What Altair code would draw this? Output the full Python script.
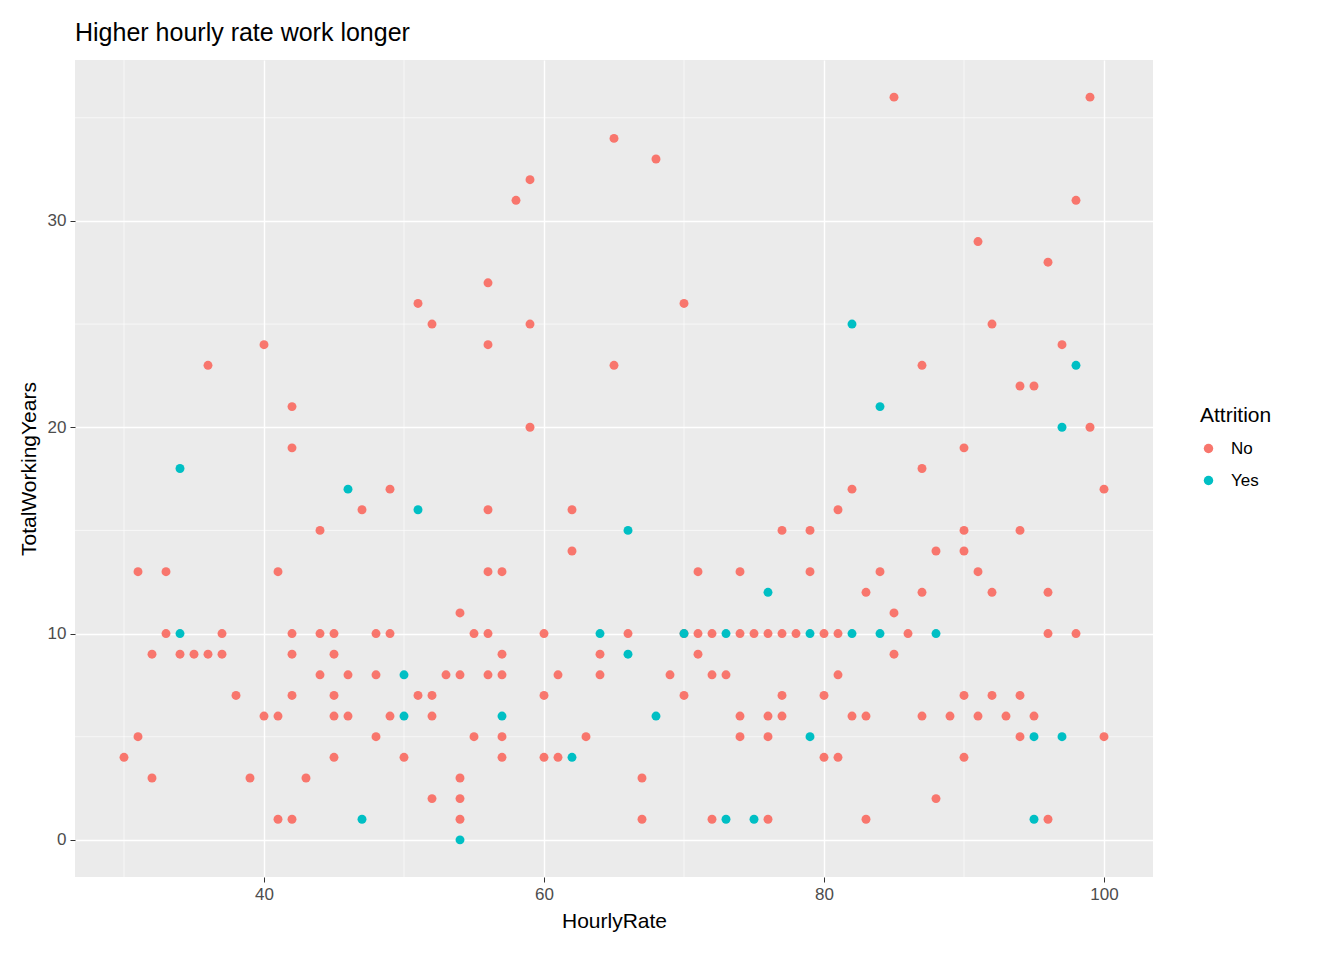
import altair as alt
import pandas as pd

# Attrition = No
no_x = [30, 31, 31, 32, 32, 33, 33, 34, 35, 36, 36, 37, 37, 38, 39, 40, 40,
        41, 41, 41, 42, 42, 42, 42, 42, 42, 43, 44, 44, 44, 45, 45, 45, 45, 45,
        46, 46, 47, 48, 48, 48, 49, 49, 49, 50, 51, 51, 52, 52, 52, 52, 53,
        54, 54, 54, 54, 54, 55, 55, 56, 56, 56, 56, 56, 56, 57, 57, 57, 57, 57,
        58, 59, 59, 59, 60, 60, 60, 61, 61, 62, 62, 63, 64, 64, 65, 65, 66,
        67, 67, 68, 69, 70, 70, 70, 71, 71, 71, 72, 72, 72, 73, 74, 74, 74, 74,
        75, 76, 76, 76, 76, 77, 77, 77, 77, 78, 79, 79, 80, 80, 80, 81, 81, 81,
        81, 82, 82, 83, 83, 83, 84, 85, 85, 85, 86, 87, 87, 87, 87, 88, 88, 89,
        90, 90, 90, 90, 90, 91, 91, 91, 92, 92, 92, 93, 94, 94, 94, 94, 95, 95,
        96, 96, 96, 96, 97, 98, 98, 99, 99, 100, 100]
no_y = [4, 5, 13, 9, 3, 13, 10, 9, 9, 23, 9, 10, 9, 7, 3, 24, 6,
        13, 6, 1, 21, 19, 10, 9, 7, 1, 3, 15, 10, 8, 10, 9, 7, 6, 4,
        8, 6, 16, 10, 8, 5, 17, 10, 6, 4, 26, 7, 25, 7, 6, 2, 8,
        11, 8, 3, 2, 1, 10, 5, 27, 24, 16, 13, 10, 8, 13, 9, 8, 5, 4,
        31, 32, 25, 20, 10, 7, 4, 8, 4, 16, 14, 5, 9, 8, 34, 23, 10,
        3, 1, 33, 8, 26, 10, 7, 13, 10, 9, 10, 8, 1, 8, 13, 10, 6, 5,
        10, 10, 6, 5, 1, 15, 10, 7, 6, 10, 15, 13, 10, 7, 4, 16, 10, 8,
        4, 17, 6, 12, 6, 1, 13, 36, 11, 9, 10, 23, 18, 12, 6, 14, 2, 6,
        19, 15, 14, 7, 4, 29, 13, 6, 25, 12, 7, 6, 22, 15, 7, 5, 22, 6,
        28, 12, 10, 1, 24, 31, 10, 36, 20, 17, 5]

# Attrition = Yes
yes_x = [34, 34, 46, 47, 50, 50, 51, 54, 57, 62, 64, 66, 66, 68, 70, 73, 73,
         75, 76, 79, 79, 82, 82, 84, 84, 88, 95, 95, 97, 97, 98]
yes_y = [10, 18, 17, 1, 8, 6, 16, 0, 6, 4, 10, 15, 9, 6, 10, 10, 1,
         1, 12, 10, 5, 25, 10, 21, 10, 10, 5, 1, 20, 5, 23]

minor_x = [30, 50, 70, 90]
minor_y = [5, 15, 25, 35]

df = pd.DataFrame({
    "HourlyRate": no_x + yes_x,
    "TotalWorkingYears": no_y + yes_y,
    "Attrition": ["No"] * len(no_x) + ["Yes"] * len(yes_x),
})

xs = alt.Scale(domain=[26.5, 103.5], nice=False, zero=False)
ys = alt.Scale(domain=[-1.8, 37.8], nice=False, zero=False)

minor_v = alt.Chart(pd.DataFrame({"v": minor_x})).mark_rule(
    color="white", strokeWidth=0.6
).encode(x=alt.X("v:Q", scale=xs))
minor_h = alt.Chart(pd.DataFrame({"v": minor_y})).mark_rule(
    color="white", strokeWidth=0.6
).encode(y=alt.Y("v:Q", scale=ys))

points = alt.Chart(df).mark_circle(size=80, opacity=1).encode(
    x=alt.X("HourlyRate:Q", scale=xs,
            axis=alt.Axis(values=[40, 60, 80, 100], title="HourlyRate")),
    y=alt.Y("TotalWorkingYears:Q", scale=ys,
            axis=alt.Axis(values=[0, 10, 20, 30], title="TotalWorkingYears")),
    color=alt.Color("Attrition:N",
                    scale=alt.Scale(domain=["No", "Yes"], range=["#F8766D", "#00BFC4"]),
                    legend=alt.Legend(title="Attrition", symbolSize=90,
                                      orient="none", legendX=1125, legendY=345,
                                      rowPadding=14, titlePadding=14,
                                      labelOffset=14)),
)

chart = alt.layer(minor_v, minor_h, points).properties(
    width=1078, height=817,
    padding={"left": 10, "top": 12, "right": 5, "bottom": 5},
    title=alt.TitleParams("Higher hourly rate work longer", anchor="start",
                          frame="group", fontSize=25, fontWeight="normal",
                          font="Liberation Sans", color="black", offset=14),
).configure_view(fill="#EBEBEB", stroke=None).configure_axis(
    grid=True, gridColor="white", gridWidth=1.4, domain=False,
    tickColor="#333333", tickSize=5, labelColor="#4D4D4D", labelFontSize=17,
    labelPadding=4, titleFontSize=21, titleFontWeight="normal", titleColor="black",
    labelFont="Liberation Sans", titleFont="Liberation Sans", titlePadding=8,
).configure_legend(
    titleFontSize=21, titleFontWeight="normal", labelFontSize=17,
    labelFont="Liberation Sans", titleFont="Liberation Sans", titleColor="black",
    labelColor="black",
)

chart.save("out.html", embed_options={"renderer": "svg", "actions": False})
